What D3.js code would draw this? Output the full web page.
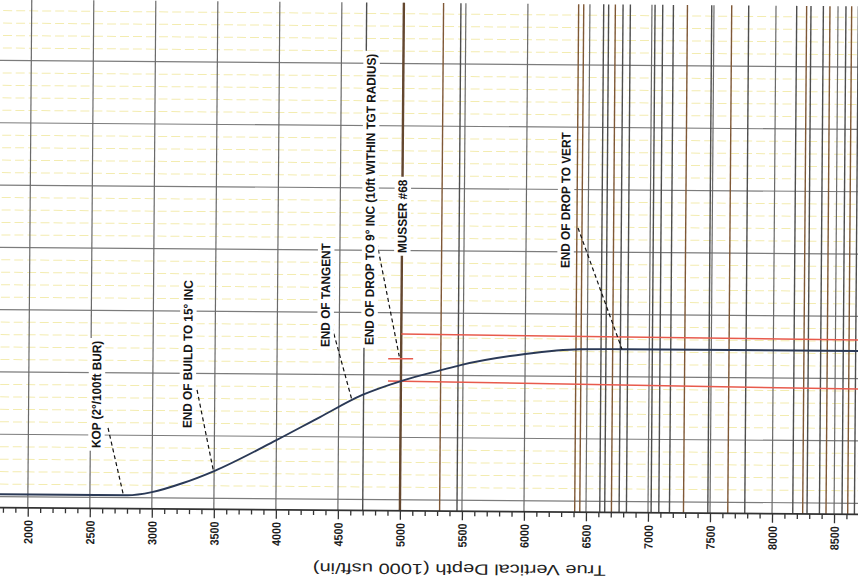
<!DOCTYPE html>
<html>
<head>
<meta charset="utf-8">
<script src="https://cdn.jsdelivr.net/npm/d3@7"></script>
<style>
  body { margin: 0; background: #fff; }
  svg { display: block; }
  .lbl { font-family: "Liberation Sans", Arial, sans-serif; font-weight: bold; font-size: 12.6px; fill: #151515; }
  .axis text { font-family: "Liberation Sans", Arial, sans-serif; font-weight: bold; font-size: 12px; fill: #1e1e1e; }
  .axis line { stroke: #333; stroke-width: 1.3; }
  .title { font-family: "Liberation Sans", Arial, sans-serif; font-size: 15px; fill: #222; }
</style>
</head>
<body>
<svg id="chart" width="858" height="580"></svg>
<script>
// well path: true vertical depth vs vertical section (ft)
var pathTVD = [1775, 2300, 2800, 3000, 3250, 3500, 4000, 4350, 4690, 5000, 5330, 5480, 6000, 6440, 6800, 7400, 8700];
var pathVS  = [18, 18, 18, 45, 120, 218, 470, 658, 838, 952, 1044, 1084, 1177, 1218, 1222, 1222, 1222];

var majorTicks = [2000, 2500, 3000, 3500, 4000, 4500, 5000, 5500, 6000, 6500, 7000, 7500, 8000, 8500];
var vsGrid = [0, 500, 1000, 1500, 2000, 2500, 3000, 3500];

// formation / offset lines (TVD)
var brownLines = [5320, 6409, 6450, 6705, 7286, 7643, 8247, 8435, 8610];
var greyLines  = [4700, 5460, 6611, 6651, 6767, 6826, 7025, 7087, 7173, 7482, 7780, 8167, 8282, 8382, 8564, 8664];
var musserTVD = 5000;

// target radius lines
var tgtUpperTVD = [5000, 8700];
var tgtUpperVS  = [1330, 1310];
var tgtLowerTVD = [4896, 8700];
var tgtLowerVS  = [952, 916];
var tgtCenterTVD = [4896, 5097];
var tgtCenterVS  = [1131, 1131];

// annotations
var labelText = ["KOP (2\u00b0/100ft BUR)", "END OF BUILD TO 15\u00b0 INC", "END OF TANGENT",
                 "END OF DROP TO 9\u00b0 INC (10ft WITHIN TGT RADIUS)", "MUSSER #68", "END OF DROP TO VERT"];
var labelTVD = [2546, 3279, 4386, 4740, 5000, 6316];
var labelVS  = [396, 562, 1221, 1239, 1980, 1870];
var leadFromTVD = [2642, 3357, 4441, 4798, null, 6418];
var leadFromVS  = [557, 868, 1382, 2059, null, 2192];
var leadToTVD   = [2770, 3495, 4607, 4985, null, 6780];
var leadToVS    = [20, 215, 794, 1150, null, 1222];

var width = 858, height = 580;
var svg = d3.select("#chart");
// the scanned sheet sits slightly skewed
var g = svg.append("g").attr("transform", "rotate(0.45," + 429 + "," + 290 + ")");

var x = d3.scaleLinear().domain([2000, 8500]).range([29.5, 835.8]);
var y = d3.scaleLinear().domain([0, 3500]).range([499.9, 63.8]);

var axisY = 511;
var tvdMin = x.invert(-12), tvdMax = x.invert(width + 12);
var vsTop = y.invert(3), vsAxis = y.invert(axisY);

// minor (yellow) horizontal lines every 100 ft
var vsMinor = d3.range(100, 4000, 100).filter(function(v) { return v % 500 !== 0; });
g.append("g").selectAll("line").data(vsMinor).enter().append("line")
  .attr("x1", x(tvdMin)).attr("x2", x(tvdMax))
  .attr("y1", function(d) { return y(d); }).attr("y2", function(d) { return y(d); })
  .attr("stroke", "#f3ecb0").attr("stroke-width", 1).attr("stroke-dasharray", "9,4");

// major horizontal grid
g.append("g").selectAll("line").data(vsGrid).enter().append("line")
  .attr("x1", x(tvdMin)).attr("x2", x(tvdMax))
  .attr("y1", function(d) { return y(d); }).attr("y2", function(d) { return y(d); })
  .attr("stroke", "#7c7c7c").attr("stroke-width", 1.2);

// major vertical grid
g.append("g").selectAll("line").data(majorTicks).enter().append("line")
  .attr("x1", function(d) { return x(d); }).attr("x2", function(d) { return x(d); })
  .attr("y1", y(vsTop)).attr("y2", axisY)
  .attr("stroke", "#6a6a6a").attr("stroke-width", 1.2);

function vLines(data, color) {
  g.append("g").selectAll("line").data(data).enter().append("line")
    .attr("x1", function(d) { return x(d); }).attr("x2", function(d) { return x(d); })
    .attr("y1", y(vsTop)).attr("y2", axisY)
    .attr("stroke", color).attr("stroke-width", 1.4);
}
vLines(greyLines, "#4e4e4e");
vLines(brownLines, "#7f5836");

g.append("line")
  .attr("x1", x(musserTVD)).attr("x2", x(musserTVD))
  .attr("y1", y(vsTop)).attr("y2", axisY)
  .attr("stroke", "#64472f").attr("stroke-width", 2.4);

// target lines
var seg = d3.line().x(function(d) { return x(d[0]); }).y(function(d) { return y(d[1]); });
[[tgtUpperTVD, tgtUpperVS], [tgtLowerTVD, tgtLowerVS], [tgtCenterTVD, tgtCenterVS]].forEach(function(t) {
  g.append("path").datum(d3.zip(t[0], t[1])).attr("d", seg)
    .attr("fill", "none").attr("stroke", "#e85a4c").attr("stroke-width", 1.5);
});

// well path
var wellLine = d3.line()
  .x(function(d) { return x(d[0]); }).y(function(d) { return y(d[1]); })
  .curve(d3.curveMonotoneX);
g.append("path").datum(d3.zip(pathTVD, pathVS)).attr("d", wellLine)
  .attr("fill", "none").attr("stroke", "#2a3956").attr("stroke-width", 1.9);

// leaders
labelText.forEach(function(t, i) {
  if (leadFromTVD[i] === null) return;
  g.append("line")
    .attr("x1", x(leadFromTVD[i])).attr("y1", y(leadFromVS[i]))
    .attr("x2", x(leadToTVD[i])).attr("y2", y(leadToVS[i]))
    .attr("stroke", "#111").attr("stroke-width", 1.2).attr("stroke-dasharray", "4,3");
});

// labels, rotated, on a white patch (slightly condensed type)
labelText.forEach(function(t, i) {
  var lg = g.append("g")
    .attr("transform", "translate(" + x(labelTVD[i]) + "," + y(labelVS[i]) + ") rotate(-90) scale(0.935,1)");
  var txt = lg.append("text").attr("class", "lbl").attr("dy", "0.36em").text(t);
  var bb = txt.node().getBBox();
  lg.insert("rect", "text")
    .attr("x", bb.x - 3).attr("y", bb.y - 1)
    .attr("width", bb.width + 6).attr("height", bb.height + 2)
    .attr("fill", "#fff");
});

// axis
g.append("line").attr("x1", x(tvdMin)).attr("x2", x(tvdMax))
  .attr("y1", axisY).attr("y2", axisY).attr("stroke", "#333").attr("stroke-width", 1.6);

var minorTicks = d3.range(1800, 8700, 100).filter(function(v) { return v % 500 !== 0; });
g.append("g").attr("class", "axis").attr("transform", "translate(0," + axisY + ")")
  .call(d3.axisBottom(x).tickValues(minorTicks).tickSize(5).tickFormat(""))
  .call(function(a) { a.select(".domain").remove(); });

var ax = g.append("g").attr("class", "axis").attr("transform", "translate(0," + axisY + ")")
  .call(d3.axisBottom(x).tickValues(majorTicks).tickSize(9).tickFormat(d3.format("d")));
ax.select(".domain").remove();
ax.selectAll("text")
  .attr("transform", "rotate(-90) scale(0.9,1)")
  .attr("x", -13.5).attr("y", 0).attr("dy", "0.36em")
  .attr("text-anchor", "end");

g.append("text").attr("class", "title")
  .attr("transform", "translate(461.5,564) rotate(180)")
  .attr("text-anchor", "middle")
  .attr("textLength", 293).attr("lengthAdjust", "spacingAndGlyphs")
  .text("True Vertical Depth (1000 usft/in)");
</script>
</body>
</html>
